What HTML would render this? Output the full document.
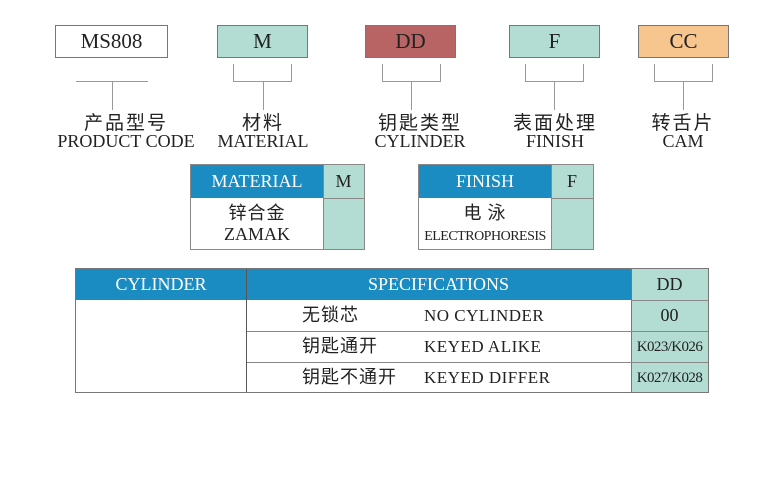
<!DOCTYPE html>
<html><head><meta charset="utf-8"><style>
body{margin:0;width:778px;height:500px;background:#fff;position:relative;overflow:hidden;font-family:"Liberation Serif","Noto Serif CJK SC",serif;color:#222}
.a{position:absolute;box-sizing:border-box}
.box{border:1px solid #777;text-align:center;font-size:21px;line-height:31px;height:33px;top:25px}
.l{background:#999}
.lab{position:absolute;text-align:center;width:180px;font-size:18px;line-height:18px}
.lab .cn{font-size:19px;letter-spacing:2px}
.cn{font-family:"Noto Sans CJK SC",sans-serif;letter-spacing:1px}
.blue{background:#1a8cc2;color:#fff}
.teal{background:#b3dcd2}
</style></head><body>
<div class="a box" style="left:55px;width:113px">MS808</div>
<div class="a box teal" style="left:217px;width:91px">M</div>
<div class="a box" style="left:365px;width:91px;background:#b86464">DD</div>
<div class="a box teal" style="left:509px;width:91px">F</div>
<div class="a box" style="left:638px;width:91px;background:#f7c58e">CC</div>

<div class="a l" style="left:76px;top:81px;width:72px;height:1px"></div>
<div class="a l" style="left:112px;top:81px;width:1px;height:29px"></div>

<div class="a" style="left:233px;top:64px;width:59px;height:18px;border:1px solid #999;border-top:none"></div>
<div class="a l" style="left:263px;top:82px;width:1px;height:28px"></div>
<div class="a" style="left:382px;top:64px;width:59px;height:18px;border:1px solid #999;border-top:none"></div>
<div class="a l" style="left:411px;top:82px;width:1px;height:28px"></div>
<div class="a" style="left:525px;top:64px;width:59px;height:18px;border:1px solid #999;border-top:none"></div>
<div class="a l" style="left:554px;top:82px;width:1px;height:28px"></div>
<div class="a" style="left:654px;top:64px;width:59px;height:18px;border:1px solid #999;border-top:none"></div>
<div class="a l" style="left:683px;top:82px;width:1px;height:28px"></div>

<div class="lab" style="left:36px;top:113px"><span class="cn">产品型号</span><br>PRODUCT CODE</div>
<div class="lab" style="left:173px;top:113px"><span class="cn">材料</span><br>MATERIAL</div>
<div class="lab" style="left:330px;top:113px"><span class="cn">钥匙类型</span><br>CYLINDER</div>
<div class="lab" style="left:465px;top:113px"><span class="cn">表面处理</span><br>FINISH</div>
<div class="lab" style="left:593px;top:113px"><span class="cn">转舌片</span><br>CAM</div>

<!-- material table -->
<div class="a" style="left:190px;top:164px;width:175px;height:86px;border:1px solid #888"></div>
<div class="a blue" style="left:191px;top:165px;width:132px;height:33px;font-size:18px;line-height:33px;text-align:center">MATERIAL</div>
<div class="a teal" style="left:323px;top:165px;width:41px;height:84px;border-left:1px solid #888"></div>
<div class="a" style="left:323px;top:198px;width:41px;height:1px;background:#888"></div>
<div class="a" style="left:323px;top:165px;width:41px;text-align:center;font-size:18px;line-height:33px">M</div>
<div class="a" style="left:191px;top:202px;width:132px;text-align:center;font-size:18px;line-height:21px"><span class="cn">锌合金</span><br>ZAMAK</div>

<div class="a" style="left:418px;top:164px;width:176px;height:86px;border:1px solid #888"></div>
<div class="a blue" style="left:419px;top:165px;width:132px;height:33px;font-size:18px;line-height:33px;text-align:center">FINISH</div>
<div class="a teal" style="left:551px;top:165px;width:42px;height:84px;border-left:1px solid #888"></div>
<div class="a" style="left:551px;top:198px;width:42px;height:1px;background:#888"></div>
<div class="a" style="left:551px;top:165px;width:42px;text-align:center;font-size:18px;line-height:33px">F</div>
<div class="a" style="left:419px;top:202px;width:132px;text-align:center;font-size:18px;line-height:21px"><span class="cn">电 泳</span><br><span style="font-size:14px;letter-spacing:-0.5px">ELECTROPHORESIS</span></div>

<!-- cylinder table -->
<div class="a" style="left:75px;top:268px;width:634px;height:125px;border:1px solid #777"></div>
<div class="a blue" style="left:76px;top:269px;width:555px;height:31px"></div>
<div class="a" style="left:76px;top:269px;width:170px;color:#fff;text-align:center;font-size:18px;line-height:31px">CYLINDER</div>
<div class="a" style="left:246px;top:269px;width:385px;color:#fff;text-align:center;font-size:18px;line-height:31px">SPECIFICATIONS</div>
<div class="a" style="left:246px;top:269px;width:1px;height:123px;background:#555"></div>
<div class="a teal" style="left:631px;top:269px;width:77px;height:123px;border-left:1px solid #777"></div>
<div class="a" style="left:247px;top:331px;width:461px;height:1px;background:#888"></div>
<div class="a" style="left:247px;top:362px;width:461px;height:1px;background:#888"></div>
<div class="a" style="left:631px;top:300px;width:77px;height:1px;background:#888"></div>
<div class="a" style="left:631px;top:269px;width:77px;text-align:center;font-size:18px;line-height:31px">DD</div>
<div class="a" style="left:631px;top:300px;width:77px;text-align:center;font-size:18px;line-height:31px">00</div>
<div class="a" style="left:631px;top:332px;width:77px;text-align:center;font-size:15px;line-height:31px;letter-spacing:-0.6px">K023/K026</div>
<div class="a" style="left:631px;top:363px;width:77px;text-align:center;font-size:15px;line-height:31px;letter-spacing:-0.6px">K027/K028</div>
<div class="a cn" style="left:302px;top:299px;font-size:18px;line-height:31px">无锁芯</div>
<div class="a cn" style="left:302px;top:330px;font-size:18px;line-height:31px">钥匙通开</div>
<div class="a cn" style="left:302px;top:361px;font-size:18px;line-height:31px">钥匙不通开</div>
<div class="a" style="left:424px;top:300px;font-size:17px;line-height:31px;letter-spacing:0.5px">NO CYLINDER</div>
<div class="a" style="left:424px;top:331px;font-size:17px;line-height:31px;letter-spacing:0.5px">KEYED ALIKE</div>
<div class="a" style="left:424px;top:362px;font-size:17px;line-height:31px;letter-spacing:0.5px">KEYED DIFFER</div>
</body></html>
